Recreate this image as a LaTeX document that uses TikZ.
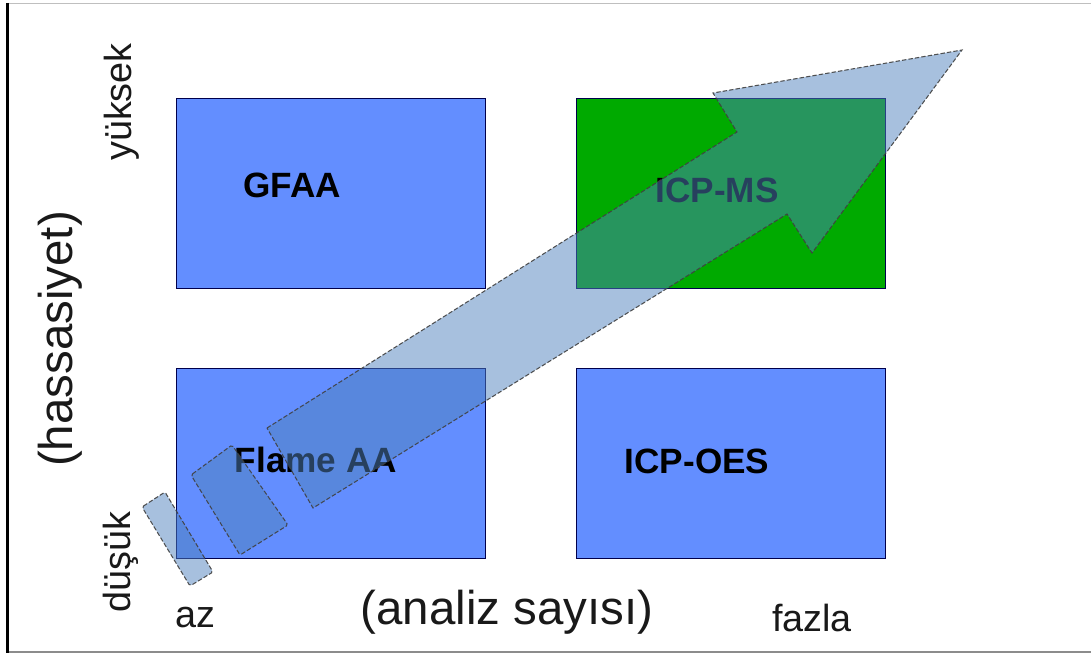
\documentclass[tikz,border=0pt]{standalone}
\usepackage{fontspec}
\setmainfont{Liberation Sans}
\begin{document}
\begin{tikzpicture}[x=0.02cm,y=-0.02cm,
  cell/.style={draw=black!70!blue, line width=0.6pt, minimum width=6.18cm,
    minimum height=3.8cm, anchor=north west, inner sep=0pt},
  celltext/.style={font=\bfseries\fontsize{20}{24}\selectfont, text=black},
  axis/.style={font=\fontsize{21.5}{26}\selectfont, text=black!90},
  bigaxis/.style={font=\fontsize{27}{32}\selectfont, text=black!90},
  arrowpart/.style={fill=arrowblue, fill opacity=0.5, draw=black!75,
    line width=0.6pt, dash pattern=on 2.5pt off 1.2pt, draw opacity=0.9}]
\definecolor{cellblue}{RGB}{99,142,255}
\definecolor{cellgreen}{RGB}{0,170,0}
\definecolor{arrowblue}{RGB}{79,129,189}
\useasboundingbox (0,0) rectangle (1091,655);

% frame
\draw[black!25, line width=1pt] (7,3.5) -- (1091,3.5);
\draw[black!45, line width=1.6pt] (7,652) -- (1091,652);
\draw[black, line width=1.2pt] (7.5,3) -- (7.5,653);

% the four method cells
\node[cell, fill=cellblue] (gfaa) at (176,98) {};
\node[cell, fill=cellgreen] (icpms) at (576,98) {};
\node[cell, fill=cellblue] (flame) at (176,368) {};
\node[cell, fill=cellblue] (icpoes) at (576,368) {};

\node[celltext] (tgfaa) at (292,185) {GFAA};
\node[celltext] (ticpms) at (717,190) {ICP-MS};
\node[celltext] (tflame) at (316,460) {Flame AA};
\node[celltext] (ticpoes) at (697,461) {ICP-OES};

% trend arrow with its broken tail
\draw[arrowpart, rounded corners=1pt] (142,507) -- (165,492) -- (213,572) -- (190,586) -- cycle;
\draw[arrowpart, rounded corners=1pt] (191,475) -- (232,445) -- (288,525) -- (240,555) -- cycle;
\draw[arrowpart] (267,428) -- (737,132) -- (713,93) -- (962,50) -- (812,253)
  -- (787,214) -- (313,508) -- cycle;

% axis labels
\node[axis, rotate=90] (high) at (122,102) {yüksek};
\node[axis, rotate=90] (low) at (121,562) {düşük};
\node[bigaxis, rotate=90] (sens) at (60,339) {(hassasiyet)};
\node[axis] (few) at (195,618) {az};
\node[axis] (many) at (812,618) {fazla};
\node[bigaxis] (count) at (507,612) {(analiz sayısı)};
\end{tikzpicture}
\end{document}
